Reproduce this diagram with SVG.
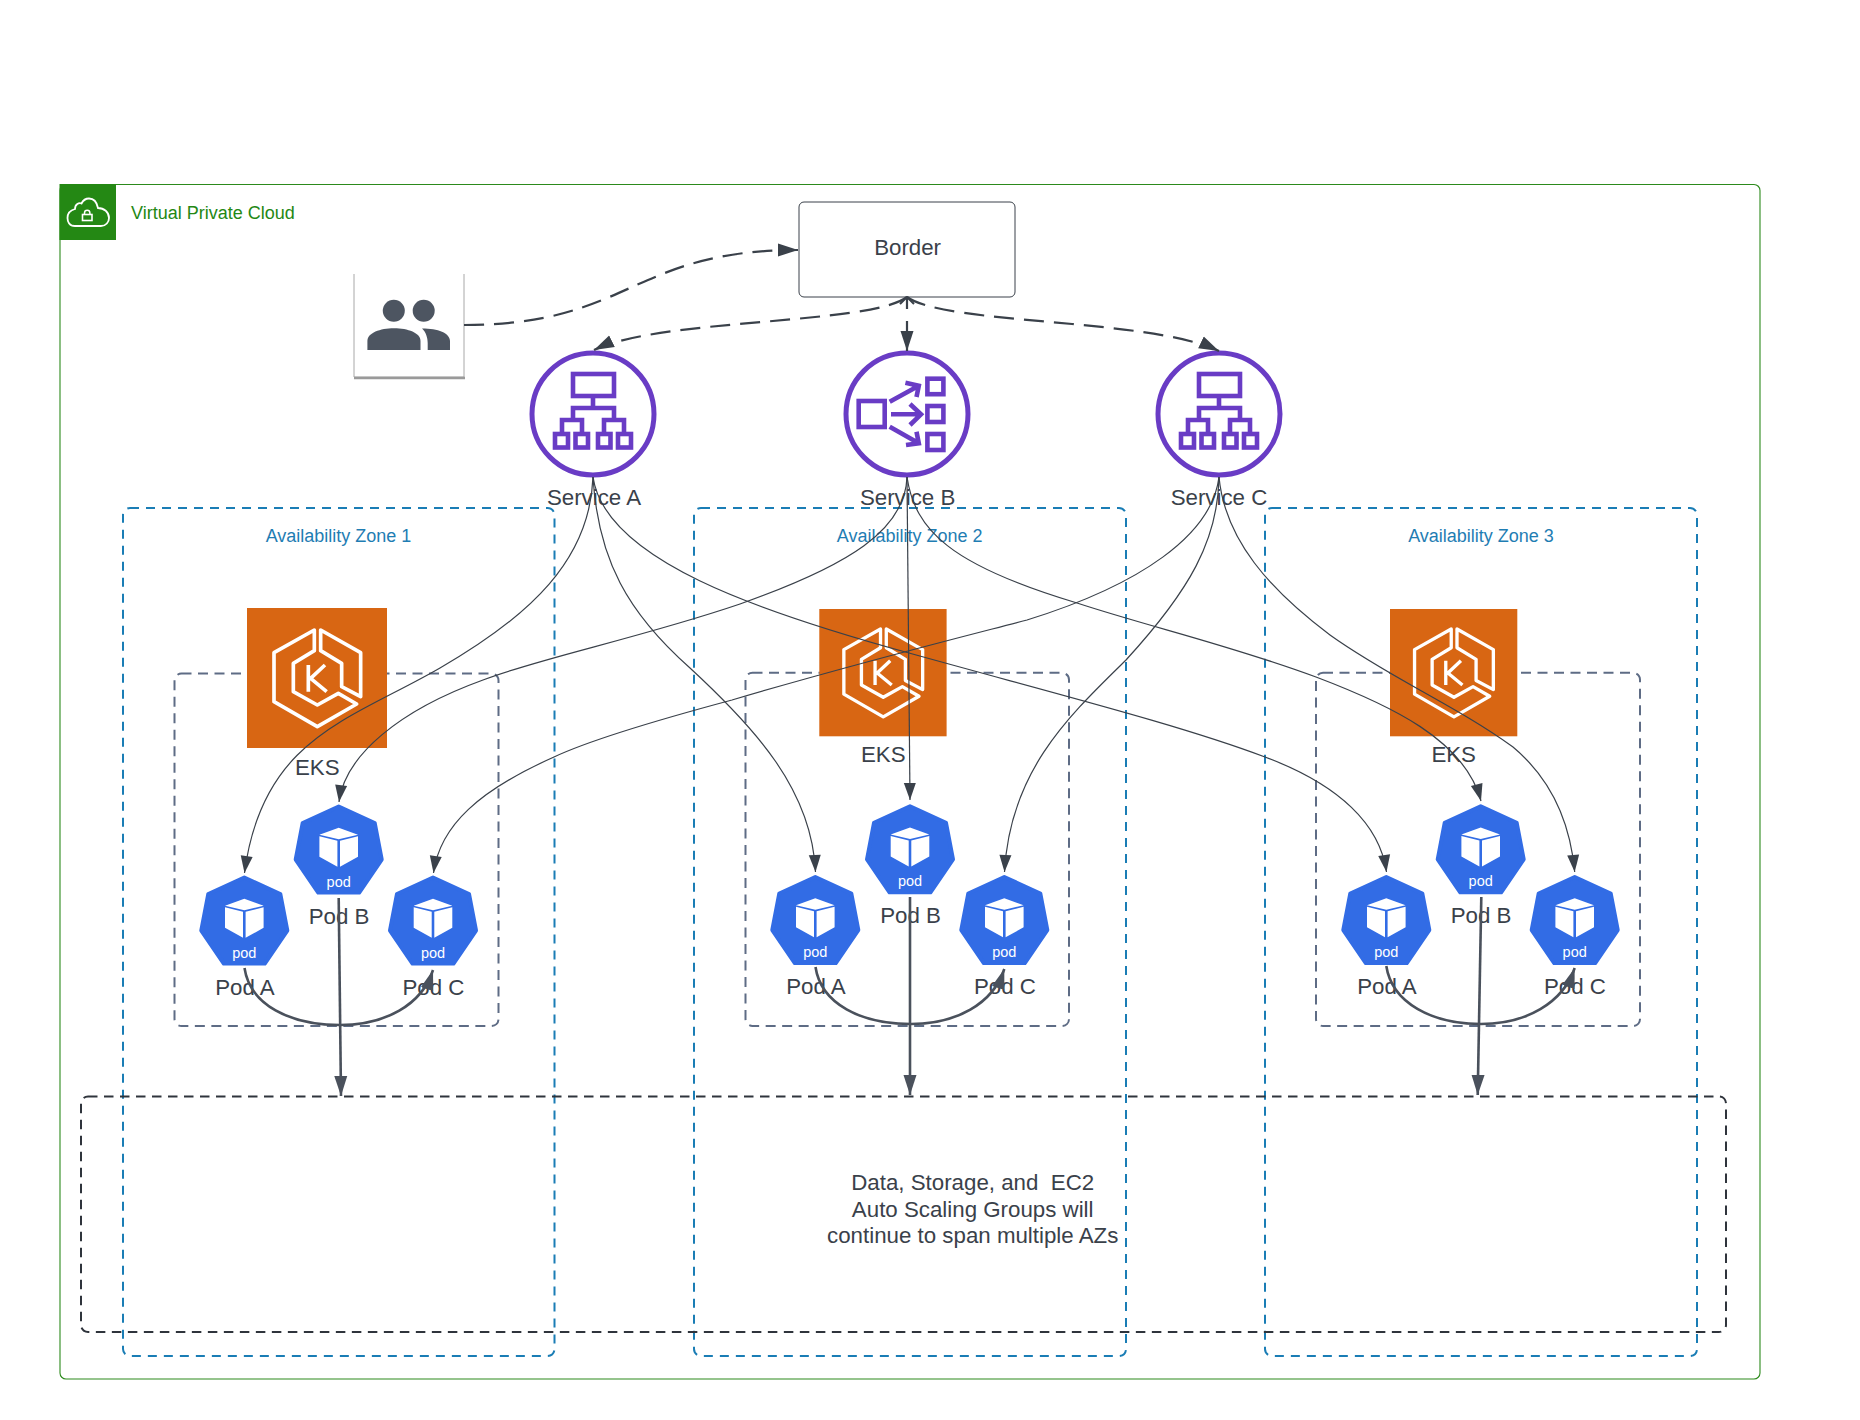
<svg xmlns="http://www.w3.org/2000/svg" width="1860" height="1420" viewBox="0 0 1860 1420">
<style>
text{font-family:"Liberation Sans",Arial,sans-serif;fill:#3a414a;white-space:pre}
.lbl{font-size:22.3px;text-anchor:middle}
.az{fill:none;stroke:#1a7db5;stroke-width:2;stroke-dasharray:9 7}
.azt{font-size:18px;text-anchor:middle;fill:#1f7db3}
.eksb{fill:none;stroke:#5e6c85;stroke-width:2;stroke-dasharray:10 6.5}
.podt{font-size:14.5px;text-anchor:middle;fill:#fff}
.svc{fill:#fff;stroke:#693cc5;stroke-width:5}
.ic{fill:none;stroke:#693cc5;stroke-width:4.6}
.eks{fill:#d86613}
.thin{fill:none;stroke:#3a414a;stroke-width:1.2;marker-end:url(#ah)}
.thick{fill:none;stroke:#4a515c;stroke-width:2.6;marker-end:url(#ahb)}
.dash{fill:none;stroke:#3a414a;stroke-width:2.2;stroke-dasharray:20 10;marker-end:url(#ahd)}
</style>
<defs>
<marker id="ah" markerUnits="userSpaceOnUse" markerWidth="20" markerHeight="14" refX="18" refY="7" orient="auto"><path d="M1,1 L18,7 L1,13 Z" fill="#3a414a"/></marker>
<marker id="ahd" markerUnits="userSpaceOnUse" markerWidth="22" markerHeight="16" refX="20" refY="8" orient="auto"><path d="M0,1.500 L20,8 L0,14.500 Z" fill="#3a414a"/></marker>
<marker id="ahb" markerUnits="userSpaceOnUse" markerWidth="22" markerHeight="16" refX="20" refY="8" orient="auto"><path d="M0,1.500 L20,8 L0,14.500 Z" fill="#4a515c"/></marker>
<marker id="op" markerUnits="userSpaceOnUse" markerWidth="14" markerHeight="16" refX="1" refY="8" orient="auto"><path d="M8,1 L1,8 L8,15" fill="none" stroke="#3a414a" stroke-width="2"/></marker>
<g id="podshape">
<path d="M0,2 L36,18.500 L43,55 L20.500,88 L-20.500,88 L-43,55 L-36,18.500 Z" fill="#326ce5" stroke="#326ce5" stroke-width="4" stroke-linejoin="round"/>
<path d="M0,23.300 L19.300,30.300 L0,34.700 L-19.300,30.300 Z M-19.300,31.700 L-1.300,36.300 V62.300 L-19.300,52.300 Z M19.300,31.700 L1.300,36.300 V62.300 L19.300,52.300 Z" fill="#fff"/>
</g>
<g id="ekslogo" fill="none" stroke="#fff" stroke-width="11" stroke-linejoin="round">
<path d="M202,66 L81,134 V281 L211,356 L329,288 L274,256 L211,291 L139,251 V166 L202,128 Z"/>
<path d="M221,66 L341,134 V266 L284,236 V166 L221,128 Z"/>
<path d="M184,171 V251 M234,171 L191,211 L239,251"/>
</g>
<g id="albicon" class="ic">
<rect x="-20" y="-40" width="41" height="22"/>
<path d="M0,-18 V-6 M-20,6 V-6 H21 V6 M-31,20 V6 H-11 V20 M11,20 V6 H31 V20"/>
<rect x="-38" y="20" width="13" height="13.500"/>
<rect x="-17.500" y="20" width="12.500" height="13.500"/>
<rect x="5" y="20" width="12.500" height="13.500"/>
<rect x="25" y="20" width="13" height="13.500"/>
</g>
</defs>

<g id="vpc">
<rect x="60" y="184.500" width="1700" height="1194.500" rx="6" fill="#fff" stroke="#2c8a1c" stroke-width="1.100"/>
<rect x="59.500" y="184" width="56.500" height="56" fill="#248814"/>
<path d="M75,226 C69,226 67.500,221 67.500,218 C67.500,213 71,210 75,209 C75,204 79,202.500 81.500,203.500 C83,200.500 86,198.500 89,198.500 C94,198.500 97,203 98,208 C104,208 109,212 109,218 C109,222 106,226 101,226 Z" fill="none" stroke="#fff" stroke-width="1.800"/>
<rect x="82.500" y="214.500" width="9.500" height="6" fill="none" stroke="#fff" stroke-width="1.600"/>
<path d="M84.500,214.500 V213 a2.700,2.700 0 0 1 5.400,0 V214.500" fill="none" stroke="#fff" stroke-width="1.500"/>
<text x="131" y="219" font-size="18" style="fill:#248814">Virtual Private Cloud</text>
</g>

<g id="az1"><rect class="az" x="123" y="508" width="431.500" height="848" rx="7"/><text class="azt" x="338.500" y="542.300">Availability Zone 1</text></g>
<g id="az2"><rect class="az" x="694" y="508" width="432" height="848" rx="7"/><text class="azt" x="909.700" y="542.300">Availability Zone 2</text></g>
<g id="az3"><rect class="az" x="1265" y="508" width="432" height="848" rx="7"/><text class="azt" x="1481" y="542.300">Availability Zone 3</text></g>

<g id="data-storage">
<rect x="81" y="1096.500" width="1645" height="235.500" rx="7" fill="none" stroke="#2f343c" stroke-width="2" stroke-dasharray="9.500 6.500"/>
<text class="lbl" x="972.700" y="1190">Data, Storage, and  EC2</text>
<text class="lbl" x="972.700" y="1216.500">Auto Scaling Groups will</text>
<text class="lbl" x="972.700" y="1243.200">continue to span multiple AZs</text>
</g>

<g id="eks-group-1"><rect class="eksb" x="174.500" y="673.500" width="324" height="352.500" rx="7"/></g>
<g id="eks-group-2"><rect class="eksb" x="745.500" y="672.700" width="323.500" height="353.300" rx="7"/></g>
<g id="eks-group-3"><rect class="eksb" x="1316" y="672.700" width="324" height="353.300" rx="7"/></g>

<g id="eks-1"><rect class="eks" x="247" y="608" width="140" height="140"/><use href="#ekslogo" transform="translate(247,608) scale(.3333)"/><text class="lbl" x="317.300" y="774.500">EKS</text></g>
<g id="eks-2"><rect class="eks" x="819.300" y="609" width="127.300" height="127.300"/><use href="#ekslogo" transform="translate(819.300,609) scale(.3031)"/><text class="lbl" x="883.300" y="762.300">EKS</text></g>
<g id="eks-3"><rect class="eks" x="1390" y="609" width="127.300" height="127.300"/><use href="#ekslogo" transform="translate(1390,609) scale(.3031)"/><text class="lbl" x="1453.700" y="762.300">EKS</text></g>

<g id="pod-a1"><use href="#podshape" transform="translate(244.300,875.500)"/><text class="podt" x="244.300" y="958">pod</text><text class="lbl" x="245" y="994.700">Pod A</text></g>
<g id="pod-b1"><use href="#podshape" transform="translate(338.700,804.500)"/><text class="podt" x="338.700" y="887">pod</text><text class="lbl" x="339" y="923.700">Pod B</text></g>
<g id="pod-c1"><use href="#podshape" transform="translate(433,875.500)"/><text class="podt" x="433" y="958">pod</text><text class="lbl" x="433.500" y="994.700">Pod C</text></g>
<g id="pod-a2"><use href="#podshape" transform="translate(815.300,875)"/><text class="podt" x="815.300" y="957">pod</text><text class="lbl" x="816" y="994">Pod A</text></g>
<g id="pod-b2"><use href="#podshape" transform="translate(910,804.300)"/><text class="podt" x="910" y="886">pod</text><text class="lbl" x="910.500" y="923">Pod B</text></g>
<g id="pod-c2"><use href="#podshape" transform="translate(1004.300,875)"/><text class="podt" x="1004.300" y="957">pod</text><text class="lbl" x="1005" y="994">Pod C</text></g>
<g id="pod-a3"><use href="#podshape" transform="translate(1386.300,875)"/><text class="podt" x="1386.300" y="957">pod</text><text class="lbl" x="1387" y="994">Pod A</text></g>
<g id="pod-b3"><use href="#podshape" transform="translate(1480.700,804.300)"/><text class="podt" x="1480.700" y="886">pod</text><text class="lbl" x="1481" y="923">Pod B</text></g>
<g id="pod-c3"><use href="#podshape" transform="translate(1574.700,875)"/><text class="podt" x="1574.700" y="957">pod</text><text class="lbl" x="1575" y="994">Pod C</text></g>

<g id="users">
<rect x="354" y="274" width="110" height="104" fill="#fff"/>
<path d="M354,274 V377 H464 V274" fill="none" stroke="#a8a8a8" stroke-width="1"/>
<path d="M354,378 H465" fill="none" stroke="#9a9a9a" stroke-width="2.600"/>
<circle cx="393.800" cy="310.700" r="11" fill="#4d5561"/>
<circle cx="423.700" cy="310.700" r="11" fill="#4d5561"/>
<path d="M367.400,350 V341 C367.400,333 380,328.300 394,328.300 C408,328.300 420.500,333 420.500,341 V350 Z" fill="#4d5561"/>
<path d="M422,328.500 C438,328.500 450,333 450,341 V350 H427.700 V343 C427.700,338 426,332 422,328.500 Z" fill="#4d5561"/>
</g>

<g id="border"><rect x="799" y="202" width="216" height="95" rx="5" fill="#fff" stroke="#3a414a" stroke-width="1"/><text class="lbl" x="907.600" y="254.700">Border</text></g>

<g id="service-a"><circle class="svc" cx="593" cy="414" r="61"/><use href="#albicon" transform="translate(593,414)"/><text class="lbl" x="594" y="505">Service A</text></g>
<g id="service-b"><circle class="svc" cx="907" cy="414" r="61"/>
<g class="ic">
<rect x="858.700" y="401" width="26" height="26"/>
<rect x="927.400" y="378.700" width="16" height="15.500"/>
<rect x="927.400" y="406" width="16" height="16"/>
<rect x="927.400" y="434" width="16" height="16"/>
<path d="M891,414.300 H920 M910,404 L921,414.300 L910,425 M889.700,401.700 L918.800,385.700 M905.400,382.700 L918.800,385.700 L916.500,397 M889.700,426.700 L918.800,443.300 M916.500,431.700 L918.800,443.300 L906,445"/>
</g>
<text class="lbl" x="907.600" y="505">Service B</text></g>
<g id="service-c"><circle class="svc" cx="1219" cy="414" r="61"/><use href="#albicon" transform="translate(1219,414)"/><text class="lbl" x="1219" y="505">Service C</text></g>

<g id="connectors">
<path class="dash" d="M464,325 C631,325 631,250 798,250"/>
<path class="dash" d="M907,297 C870,325 660,318 594,350"/>
<path class="dash" d="M907,297 C945,325 1150,318 1219,351"/>
<path class="dash" d="M907,297 V351" style="stroke-dasharray:12 12 40;marker-start:url(#op)"/>

<path class="thin" d="M593,477 C590,560 530,616 440,668 C350,720 262,738 244.500,873"/>
<path class="thin" d="M593,477 C598,560 628,613 690,668 C755,728 812,790 815.500,872"/>
<path class="thin" d="M593,477 C605,560 760,612 909,653 C1060,695 1180,725 1265,757 C1340,785 1380,825 1386.500,872"/>

<path class="thin" d="M907,477 C905,530 850,565 740,604 C640,638 540,658 483,680 C400,710 345,755 339,802"/>
<path class="thin" d="M907,477 L910,800"/>
<path class="thin" d="M907,477 C915,530 950,565 1077,603 C1150,627 1230,645 1316,677 C1390,705 1465,740 1481,801"/>

<path class="thin" d="M1219,477 C1212,535 1140,585 1027,620 C950,640 850,665 732,700 C650,722 590,740 554,757 C480,790 440,825 433.500,873"/>
<path class="thin" d="M1219,477 C1218,540 1190,590 1126,660 C1070,715 1010,770 1004.500,872"/>
<path class="thin" d="M1219,477 C1225,540 1270,590 1330,635 C1390,678 1455,705 1513,747 C1550,778 1570,820 1574.700,872"/>

<path class="thick" d="M244.500,968 C250,1005 290,1025 340,1025 C385,1025 422,1005 433,970"/>
<path class="thick" d="M815.500,967 C821,1004 861,1024 911,1024 C956,1024 993,1004 1004.300,969"/>
<path class="thick" d="M1386.300,966 C1392,1003 1432,1024 1481,1024 C1526,1024 1563,1003 1574.700,968"/>
<path class="thick" d="M338.700,898 L341,1096"/>
<path class="thick" d="M910,897 V1095"/>
<path class="thick" d="M1481.300,897 L1477.700,1095"/>
</g>
</svg>
